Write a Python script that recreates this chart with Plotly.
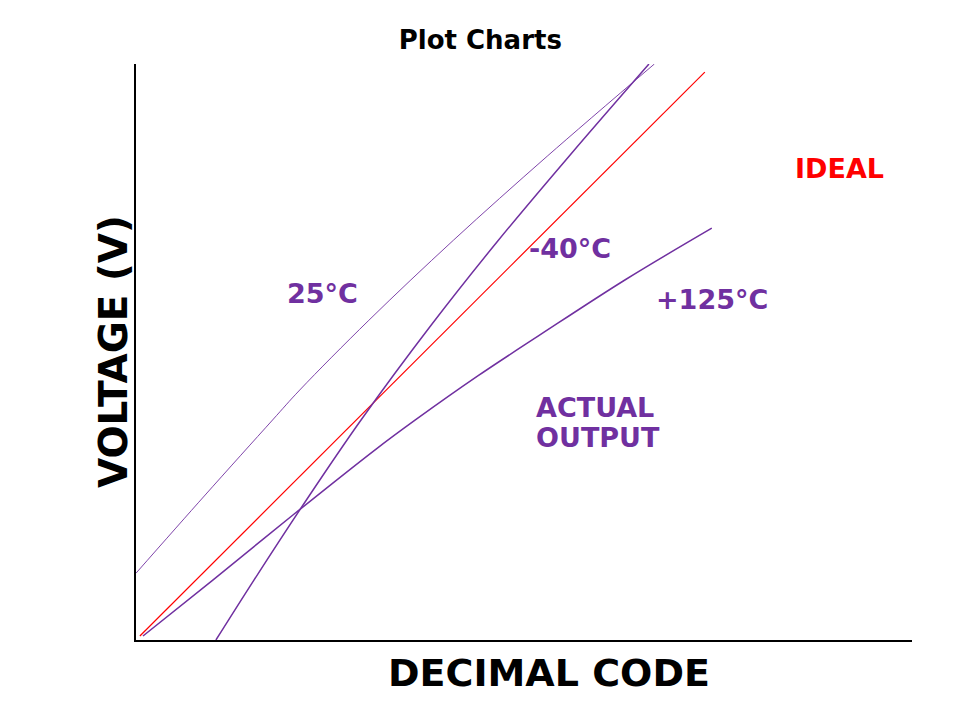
import plotly.graph_objects as go

# decimal code (x) and voltage (y), in percent of full scale
ideal_x = [0.5, 73.3]
ideal_y = [0.7, 98.6]

t25_x = [0, 8.8, 17.6, 21.1, 30.0, 40.9, 53.0, 66.8]
t25_y = [11.6, 25.0, 38.2, 43.4, 55.5, 69.4, 84.0, 100]

tm40_x = [10.3, 15.2, 22.0, 29.0, 38.0, 46.7, 56.0, 66.1]
tm40_y = [0, 10.4, 24.4, 38.2, 54.6, 69.4, 84.3, 100]

t125_x = [0.9, 9.9, 20.5, 30.9, 36.0, 44.0, 52.1, 63.0, 74.2]
t125_y = [0.7, 10.4, 22.0, 33.1, 38.2, 45.8, 53.0, 62.5, 71.5]

# text labels and their positions in data units
label_text = ["IDEAL", "-40°C", "25°C", "+125°C"]
label_x = [90.7, 55.9, 24.0, 74.2]
label_y = [81.9, 67.9, 60.1, 59.2]

PURPLE = "#7030A0"
RED = "#FF0000"
FONT = "DejaVu Sans"

fig = go.Figure()
fig.add_trace(go.Scatter(x=ideal_x, y=ideal_y, mode="lines",
                         line=dict(color=RED, width=1.2), name="Ideal"))
fig.add_trace(go.Scatter(x=t25_x, y=t25_y, mode="lines", line_shape="spline",
                         line=dict(color=PURPLE, width=0.9), name="25°C"))
fig.add_trace(go.Scatter(x=tm40_x, y=tm40_y, mode="lines", line_shape="spline",
                         line=dict(color=PURPLE, width=1.5), name="-40°C"))
fig.add_trace(go.Scatter(x=t125_x, y=t125_y, mode="lines", line_shape="spline",
                         line=dict(color=PURPLE, width=1.5), name="+125°C"))

for text, x, y in zip(label_text, label_x, label_y):
    c = RED if text == "IDEAL" else PURPLE
    fig.add_annotation(x=x, y=y, text=f"<b>{text}</b>", showarrow=False,
                       font=dict(family=FONT, size=27, color=c))
fig.add_annotation(x=51.3, y=40.3, text="<b>ACTUAL</b>", showarrow=False, xanchor="left",
                   font=dict(family=FONT, size=27, color=PURPLE))
fig.add_annotation(x=51.3, y=35.2, text="<b>OUTPUT</b>", showarrow=False, xanchor="left",
                   font=dict(family=FONT, size=27, color=PURPLE))

# axis titles as paper-positioned annotations so they sit where the reference has them
fig.add_annotation(xref="paper", yref="paper", x=0.5316, y=-0.0573,
                   xanchor="center", yanchor="middle",
                   text="<b>DECIMAL CODE</b>", showarrow=False,
                   font=dict(family=FONT, size=38, color="black"))
fig.add_annotation(xref="paper", yref="paper", x=-0.0296, y=0.5,
                   xanchor="center", yanchor="middle",
                   text="<b>VOLTAGE (V)</b>", showarrow=False, textangle=-90,
                   font=dict(family=FONT, size=39, color="black"))

fig.update_layout(
    width=960, height=720,
    plot_bgcolor="white", paper_bgcolor="white",
    showlegend=False,
    title=dict(text="<b>Plot Charts</b>", x=0.492, xanchor="center", y=0.956, yanchor="middle",
               font=dict(family=FONT, size=26, color="black")),
    xaxis=dict(range=[0, 100], showline=True, linecolor="black", linewidth=1.5,
               showgrid=False, zeroline=False, showticklabels=False, ticks=""),
    yaxis=dict(range=[0, 100], showline=True, linecolor="black", linewidth=1.5,
               showgrid=False, zeroline=False, showticklabels=False, ticks=""),
    margin=dict(l=128, r=56, t=56, b=88),
)

fig.write_html("out.html")
